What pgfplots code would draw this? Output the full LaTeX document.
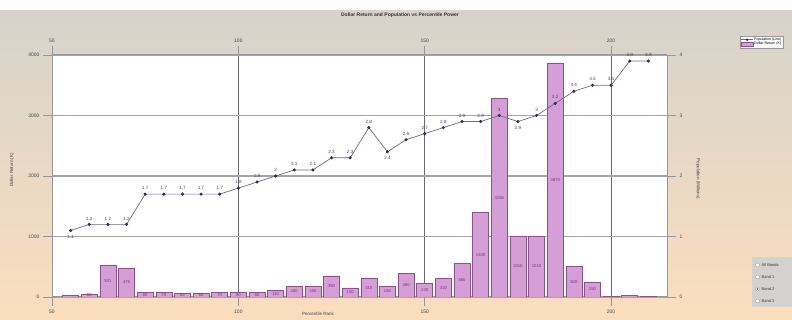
\documentclass[border=0pt]{standalone}
\usepackage{fontspec}
\setmainfont{Liberation Sans}
\usepackage{pgfplots}
\pgfplotsset{compat=1.18}
\usepackage{pgfplotstable}

\definecolor{bgtop}{RGB}{214,211,204}
\definecolor{bgmid}{RGB}{236,222,206}
\definecolor{bgbot}{RGB}{252,222,190}
\definecolor{barfill}{RGB}{214,158,214}
\definecolor{baredge}{RGB}{140,82,140}
\definecolor{barlab}{RGB}{120,55,120}
\definecolor{axisc}{RGB}{150,150,150}
\definecolor{hgrid}{RGB}{165,165,165}
\definecolor{vgrid}{RGB}{105,105,105}
\definecolor{linec}{RGB}{105,105,145}
\definecolor{markc}{RGB}{45,45,85}
\definecolor{tickc}{RGB}{70,70,70}
\definecolor{panel}{RGB}{212,210,206}

% dollar return per percentile band
\pgfplotstableread{
x v
55 20
60 50
65 531
70 479
75 80
80 70
85 65
90 65
95 70
100 80
105 80
110 110
115 180
120 180
125 350
130 150
135 310
140 180
145 390
150 230
155 310
160 560
165 1400
170 3286
175 1010
180 1010
185 3870
190 500
195 250
200 10
205 20
210 10
}\returns

% population line, dy = label offset
\pgfplotstableread{
x v dy
55 1.1 -6
60 1.2 6
65 1.2 6
70 1.2 6
75 1.7 6
80 1.7 6
85 1.7 6
90 1.7 6
95 1.7 6
100 1.8 6
105 1.9 6
110 2.0 6
115 2.1 6
120 2.1 6
125 2.3 6
130 2.3 6
135 2.8 6
140 2.4 -6
145 2.6 6
150 2.7 6
155 2.8 6
160 2.9 6
165 2.9 6
170 3.0 6
175 2.9 -6
180 3.0 6
185 3.2 6
190 3.4 6
195 3.5 6
200 3.5 6
205 3.9 6
210 3.9 6
}\popline

\pgfplotsset{
  common/.style={
    scale only axis, width=615pt, height=242pt,
    at={(52pt,23pt)}, anchor=south west,
    xmin=50, xmax=215,
    xtick={50,100,150,200},
    axis line style={draw=axisc, line width=1pt},
    tick align=outside, major tick length=9pt,
    tick style={draw=axisc, line width=0.8pt},
    ticklabel style={font=\fontsize{5}{6}\selectfont, text=tickc},
    /pgf/number format/1000 sep={},
    /pgf/number format/assume math mode=true,
  }
}

\begin{document}
\begin{tikzpicture}[x=1pt,y=1pt]
\useasboundingbox (0,0) rectangle (792,320);
\shade[top color=bgtop, middle color=bgmid, bottom color=bgbot] (0,0) rectangle (792,310);
\fill[white!94!bgtop] (0,310) rectangle (792,320);

% bars: dollar return
\begin{axis}[common,
  ymin=0, ymax=4000, ytick={0,1000,2000,3000,4000},
  axis x line*=bottom, axis y line*=left,
  axis background/.style={fill=white},
  xmajorgrids, ymajorgrids,
  x grid style={vgrid, line width=0.8pt},
  y grid style={hgrid, line width=1.3pt},
]
\addplot[ybar, bar width=4.3, fill=barfill, draw=baredge, line width=0.6pt]
  table[x=x, y=v] {\returns};
\addplot[draw=none, restrict y to domain=20:3000,
  nodes near coords, point meta=\thisrow{v},
  every node near coord/.append style={font=\fontsize{4.2}{4.5}\selectfont, text=barlab, anchor=center, inner sep=0pt}]
  table[x=x, y expr=\thisrow{v}/2] {\returns};
\end{axis}

% line: population
\begin{axis}[common,
  ymin=0, ymax=4, ytick={0,1,2,3,4},
  axis x line*=top, axis y line*=right,
  legend style={at={(1.118,1.08)}, anchor=north west, draw=axisc, fill=white,
    font=\fontsize{3.6}{4}\selectfont, inner sep=1pt, row sep=-1.5pt,
    nodes={inner sep=0.8pt}},
  legend cell align=left,
  legend image post style={scale=0.7},
]
\addplot[linec, line width=0.7pt, mark=*, mark size=1.2pt,
  mark options={draw=markc, fill=markc},
  nodes near coords, point meta=\thisrow{v},
  visualization depends on={\thisrow{dy} \as \dy},
  every node near coord/.append style={font=\fontsize{4.6}{5}\selectfont, text=tickc, anchor=center, yshift=\dy pt}]
  table[x=x, y=v] {\popline};
\addlegendentry{Population (Line)}
\addlegendimage{area legend, fill=barfill, draw=baredge}
\addlegendentry{Dollar Return (K)}
\end{axis}

% titles and axis labels
\node[font=\fontsize{5}{6}\selectfont\bfseries, text=black!80] at (400,305) {Dollar Return and Population vs Percentile Power};
\node[font=\fontsize{4.5}{5}\selectfont, text=black!75, rotate=90] at (12,150) {Dollar Return (K)};
\node[font=\fontsize{4.5}{5}\selectfont, text=black!75, rotate=-90] at (698,141) {Population (Millions)};
\node[font=\fontsize{4.5}{5}\selectfont, text=black!75] at (318,6) {Percentile Rank};

% band selector
\fill[panel] (752,13) rectangle (792,63);
\foreach \yy/\lab in {55/All Bands, 43/Band 1, 31/Band 2, 19/Band 3}{
  \filldraw[fill=white, draw=axisc, line width=0.4pt] (757.5,\yy) circle (2);
  \node[anchor=west, font=\fontsize{4}{4.5}\selectfont, text=black!80, inner sep=0pt] at (761.5,\yy) {\lab};
}
\fill[black!80] (757.5,31) circle (0.9);
\end{tikzpicture}
\end{document}
